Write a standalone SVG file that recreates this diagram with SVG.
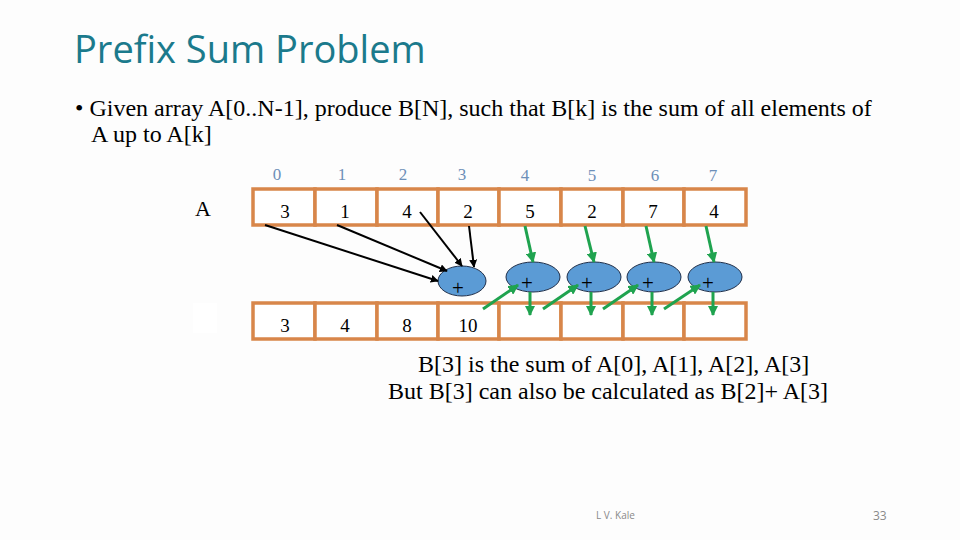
<svg xmlns="http://www.w3.org/2000/svg" width="960" height="540" viewBox="0 0 960 540">
<defs>
<style>
.serif{font-family:"Liberation Serif","Times New Roman",serif;fill:#000}
.idx{font-family:"Liberation Serif","Times New Roman",serif;font-size:17px;fill:#6d8fb8;text-anchor:middle}
.val{font-family:"Liberation Serif","Times New Roman",serif;font-size:19px;fill:#000;text-anchor:middle}
.cell{fill:#fff;stroke:#d8864a;stroke-width:3.5}
.ell{fill:#5b9bd5;stroke:#1f2f4a;stroke-width:1}
.plus{font-family:"Liberation Serif","Times New Roman",serif;font-size:21px;fill:#000;text-anchor:middle}
.blk{stroke:#000;stroke-width:2;fill:none;marker-end:url(#ab)}
.grn{stroke:#1fa34f;stroke-width:3;fill:none;marker-end:url(#ag)}
</style>
<marker id="ab" viewBox="0 0 10 10" refX="9" refY="5" markerWidth="4" markerHeight="4" orient="auto" markerUnits="strokeWidth"><path d="M0,0 L10,5 L0,10 z" fill="#000"/></marker>
<marker id="ag" viewBox="0 0 10 10" refX="9" refY="5" markerWidth="3.5" markerHeight="3.5" orient="auto" markerUnits="strokeWidth"><path d="M0,0 L10,5 L0,10 z" fill="#1fa34f"/></marker>
</defs>
<rect width="960" height="540" fill="#fdfdfd"/>
<text x="74" y="63" font-family="'Open Sans','Noto Sans',sans-serif" font-size="38" fill="#1b7a8c">Prefix Sum Problem</text>
<text class="serif" x="75" y="116" font-size="24">• Given array A[0..N-1], produce B[N], such that B[k] is the sum of all elements of</text>
<text class="serif" x="91" y="142" font-size="24">A up to A[k]</text>

<g id="indices">
<text class="idx" x="277" y="180">0</text>
<text class="idx" x="342" y="180">1</text>
<text class="idx" x="403" y="180">2</text>
<text class="idx" x="462" y="180">3</text>
<text class="idx" x="525" y="181">4</text>
<text class="idx" x="592" y="181">5</text>
<text class="idx" x="655" y="181">6</text>
<text class="idx" x="713" y="181">7</text>
</g>
<text class="serif" x="203" y="216" font-size="22" text-anchor="middle">A</text>

<g id="arrayA">
<rect class="cell" x="253" y="189" width="62" height="36"/>
<rect class="cell" x="315" y="189" width="62" height="36"/>
<rect class="cell" x="377" y="189" width="61" height="36"/>
<rect class="cell" x="438" y="189" width="61" height="36"/>
<rect class="cell" x="499" y="189" width="62" height="36"/>
<rect class="cell" x="561" y="189" width="62" height="36"/>
<rect class="cell" x="623" y="189" width="61" height="36"/>
<rect class="cell" x="684" y="189" width="62" height="36"/>
<text class="val" x="285" y="218">3</text>
<text class="val" x="345" y="218">1</text>
<text class="val" x="407" y="218">4</text>
<text class="val" x="468" y="218">2</text>
<text class="val" x="530" y="218">5</text>
<text class="val" x="592" y="218">2</text>
<text class="val" x="653" y="218">7</text>
<text class="val" x="714" y="218">4</text>
</g>

<rect x="193" y="303" width="24" height="30" fill="#fff"/>
<g id="arrayB">
<rect class="cell" x="253" y="303" width="62" height="36"/>
<rect class="cell" x="315" y="303" width="62" height="36"/>
<rect class="cell" x="377" y="303" width="61" height="36"/>
<rect class="cell" x="438" y="303" width="61" height="36"/>
<rect class="cell" x="499" y="303" width="62" height="36"/>
<rect class="cell" x="561" y="303" width="62" height="36"/>
<rect class="cell" x="623" y="303" width="61" height="36"/>
<rect class="cell" x="684" y="303" width="62" height="36"/>
<text class="val" x="285" y="332">3</text>
<text class="val" x="345" y="332">4</text>
<text class="val" x="407" y="332">8</text>
<text class="val" x="468" y="332">10</text>
</g>

<g id="add0"><ellipse class="ell" cx="462" cy="281" rx="24" ry="15"/><text class="plus" x="458" y="295">+</text></g>
<g id="add1"><ellipse class="ell" cx="533" cy="277" rx="27" ry="15"/><text class="plus" x="527" y="290">+</text></g>
<g id="add2"><ellipse class="ell" cx="594" cy="277" rx="27" ry="15"/><text class="plus" x="587" y="290">+</text></g>
<g id="add3"><ellipse class="ell" cx="654" cy="277" rx="27" ry="15"/><text class="plus" x="648" y="290">+</text></g>
<g id="add4"><ellipse class="ell" cx="715" cy="277" rx="27" ry="15"/><text class="plus" x="708" y="290">+</text></g>

<g id="connectors">
<line class="blk" x1="265" y1="225" x2="438" y2="281"/>
<line class="blk" x1="337" y1="225" x2="447" y2="271"/>
<line class="blk" x1="420" y1="212" x2="462" y2="266"/>
<line class="blk" x1="469" y1="226" x2="474" y2="267"/>
<line class="grn" x1="525" y1="226" x2="533" y2="262"/>
<line class="grn" x1="585" y1="226" x2="594" y2="262"/>
<line class="grn" x1="646" y1="226" x2="654" y2="262"/>
<line class="grn" x1="706" y1="226" x2="714" y2="262"/>
<line class="grn" x1="483" y1="309" x2="518" y2="285"/>
<line class="grn" x1="543" y1="309" x2="578" y2="285"/>
<line class="grn" x1="603" y1="309" x2="638" y2="285"/>
<line class="grn" x1="664" y1="309" x2="700" y2="285"/>
<line class="grn" x1="530" y1="292" x2="530" y2="315"/>
<line class="grn" x1="591" y1="292" x2="591" y2="315"/>
<line class="grn" x1="652" y1="292" x2="652" y2="315"/>
<line class="grn" x1="713" y1="292" x2="713" y2="315"/>
</g>

<text class="serif" x="418" y="372" font-size="24">B[3] is the sum of A[0], A[1], A[2], A[3]</text>
<text class="serif" x="388" y="399" font-size="24">But B[3] can also be calculated as B[2]+ A[3]</text>

<text x="596" y="519" font-family="'Open Sans','Noto Sans',sans-serif" font-size="10" fill="#8a8a8a">L V. Kale</text>
<text x="873" y="520" font-family="'Open Sans','Noto Sans',sans-serif" font-size="12" fill="#8a8a8a">33</text>
</svg>
